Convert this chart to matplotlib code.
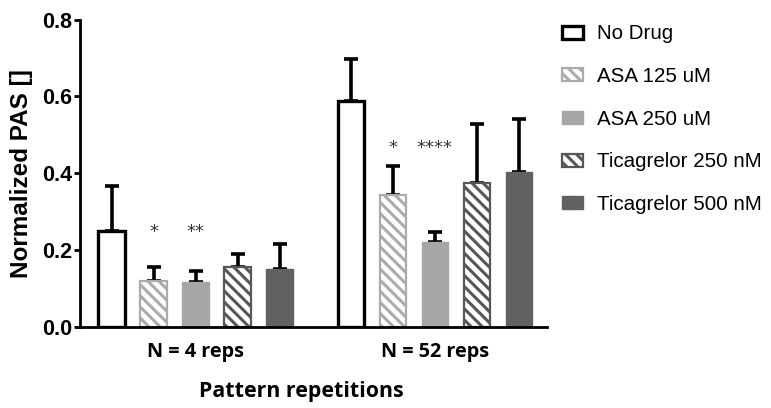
import matplotlib.pyplot as plt
from matplotlib.patches import Patch
import numpy as np

groups = ['N = 4 reps', 'N = 52 reps']
series = ['No Drug', 'ASA 125 uM', 'ASA 250 uM', 'Ticagrelor 250 nM', 'Ticagrelor 500 nM']
means = [[0.25, 0.12, 0.116, 0.157, 0.150],
         [0.589, 0.343, 0.220, 0.374, 0.404]]
errs = [[0.117, 0.037, 0.031, 0.032, 0.067],
        [0.107, 0.077, 0.027, 0.154, 0.138]]
# significance stars: (group, series index, text, height)
stars = [(0, 1, '*', 0.247), (0, 2, '**', 0.247),
         (1, 1, '*', 0.466), (1, 2, '****', 0.466)]

faces = ['white', 'white', '#a6a6a8', 'white', '#616161']
edges = ['black', '#ababab', '#a6a6a8', '#575757', '#616161']
hatches = [None, '\\\\\\', None, '\\\\\\', None]
lws = [2.4, 1.6, 1.0, 1.6, 1.0]

plt.rcParams['hatch.linewidth'] = 2.2

fig = plt.figure(figsize=(7.71, 4.08), dpi=100)
ax = fig.add_axes([0.1038, 0.1985, 0.6057, 0.7537])

group_x = np.array([0.0, 5.7])
width = 0.63
for g in range(2):
    for i in range(5):
        x = group_x[g] + i
        ax.bar(x, means[g][i], width=width, color=faces[i], edgecolor=edges[i],
               hatch=hatches[i], linewidth=lws[i], zorder=2)
        ax.errorbar(x, means[g][i], yerr=[[0], [errs[g][i]]], fmt='none',
                    ecolor='black', elinewidth=2.6, capsize=4.8, capthick=2.6, zorder=1)

for g, i, s, y in stars:
    ax.text(group_x[g] + i, y, s, ha='center', va='center', fontsize=13, color='#333333')

ax.set_xlim(-0.75, 10.37)
ax.set_ylim(0, 0.8)
ax.set_yticks([0.0, 0.2, 0.4, 0.6, 0.8])
ax.set_yticklabels(['0.0', '0.2', '0.4', '0.6', '0.8'], fontsize=15.5,
                   fontweight='bold', family='Liberation Sans')
ax.set_xticks(group_x + 2)
ax.set_xticklabels(groups, fontsize=14.3, fontweight='bold', family='Open Sans')
ax.tick_params(axis='x', length=0, pad=11)
ax.tick_params(axis='y', length=4, width=2, pad=1.5)
for side in ['top', 'right']:
    ax.spines[side].set_visible(False)
for side in ['left', 'bottom']:
    ax.spines[side].set_linewidth(2)

ax.set_ylabel('Normalized PAS []', fontsize=17.5, fontweight='bold', family='Liberation Sans')
ax.yaxis.set_label_coords(-0.1, 0.5)
ax.set_xlabel('Pattern repetitions', fontsize=15.4, fontweight='bold', family='Open Sans')
ax.xaxis.set_label_coords(0.473, -0.175)

handles = [Patch(facecolor=faces[i], edgecolor=edges[i], hatch=hatches[i],
                 linewidth=lws[i], label=series[i]) for i in range(5)]
leg = fig.legend(handles=handles, loc='upper left', bbox_to_anchor=(0.729, 0.94),
                 frameon=False, handlelength=1.0, handleheight=0.6,
                 labelspacing=1.15, handletextpad=0.68, borderpad=0, borderaxespad=0,
                 prop={'family': 'Liberation Sans', 'size': 14.8})

fig.savefig('out.png', dpi=100)
